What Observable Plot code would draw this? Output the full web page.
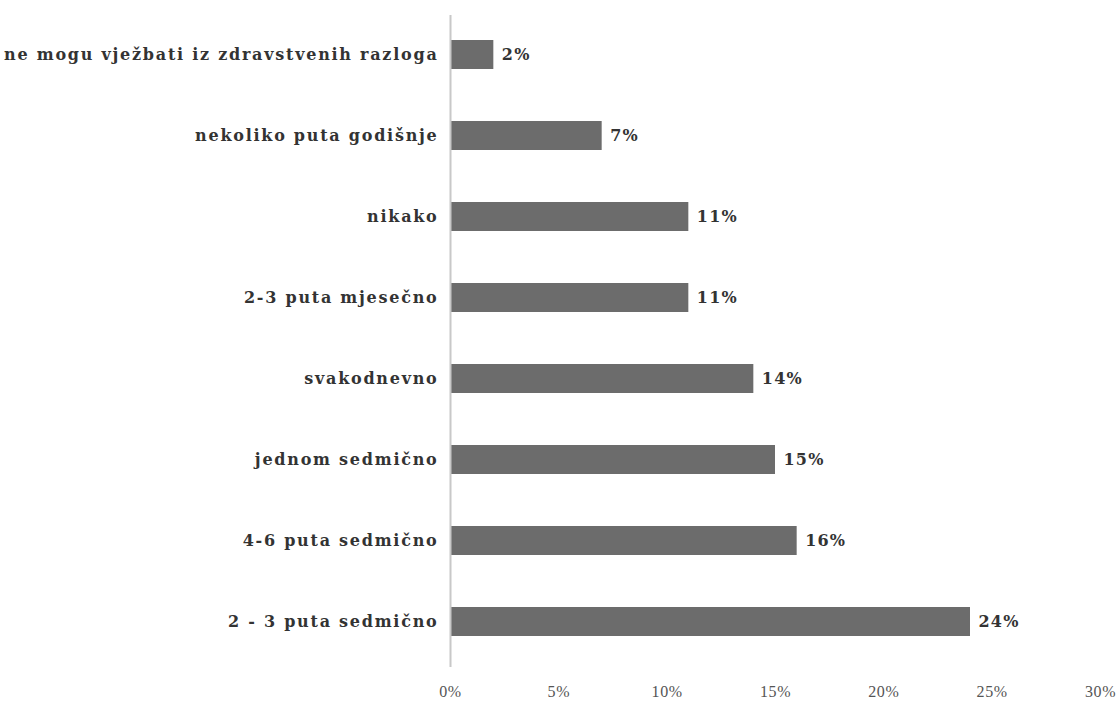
<!DOCTYPE html>
<html>
<head>
<meta charset="utf-8">
<script src="https://cdn.jsdelivr.net/npm/d3@7"></script>
<script src="https://cdn.jsdelivr.net/npm/@observablehq/plot@0.6"></script>
<style>
  html, body { margin: 0; padding: 0; background: #fff; }
  #chart svg { display: block; }
  #chart svg g[aria-label="y-axis tick label"] text { letter-spacing: 1.75px; }
  #chart svg g[aria-label="text"] text { letter-spacing: 1.2px; }
  #chart svg g[aria-label="x-axis tick label"] text { letter-spacing: 0.6px; }
</style>
</head>
<body>
<div id="chart"></div>
<script>
const categories = [
  "ne mogu vježbati iz zdravstvenih razloga",
  "nekoliko puta godišnje",
  "nikako",
  "2-3 puta mjesečno",
  "svakodnevno",
  "jednom sedmično",
  "4-6 puta sedmično",
  "2 - 3 puta sedmično"
];
const values = [2, 7, 11, 11, 14, 15, 16, 24];
const xTicks = [0, 5, 10, 15, 20, 25, 30];

const data = categories.map((c, i) => ({category: c, value: values[i]}));

const chart = Plot.plot({
  width: 1120,
  height: 701,
  marginLeft: 450,
  marginRight: 20,
  marginTop: 22,
  marginBottom: 46,
  style: {background: "#fff", fontFamily: "'Liberation Serif', serif"},
  x: {domain: [0, 30], label: null},
  y: {domain: categories, paddingInner: 0.64, paddingOuter: 0.2, label: null},
  marks: [
    Plot.axisX({ticks: xTicks, tickFormat: d => d + "%", tickSize: 0, tickPadding: 30, fontSize: 16, fill: "#555", label: null}),
    Plot.axisY({tickSize: 0, tickPadding: 12, fontSize: 16, fontWeight: "bold", fill: "#333", fontFamily: "'DejaVu Serif', serif", label: null}),
    Plot.barX(data, {y: "category", x: "value", fill: "#6c6c6c"}),
    Plot.ruleX([0], {stroke: "#c8c8c8", strokeWidth: 2, insetTop: -7, insetBottom: -12}),
    Plot.text(data, {y: "category", x: "value", text: d => d.value + "%", dx: 8, textAnchor: "start", fontSize: 16, fontWeight: "bold", fill: "#333", fontFamily: "'DejaVu Serif', serif"})
  ]
});
document.getElementById("chart").appendChild(chart);
</script>
</body>
</html>
